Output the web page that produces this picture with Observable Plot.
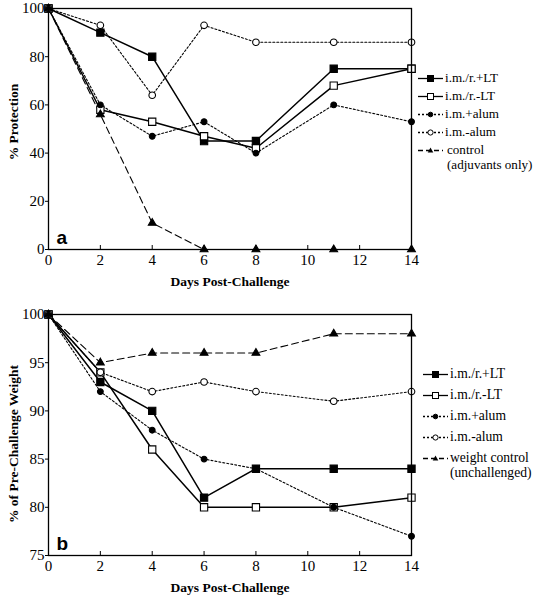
<!DOCTYPE html>
<html><head><meta charset="utf-8">
<script src="https://cdn.jsdelivr.net/npm/d3@7"></script>
<script src="https://cdn.jsdelivr.net/npm/@observablehq/plot@0.6"></script>
<style>
body{margin:0;background:#fff;}
#wrap{position:relative;width:538px;height:595px;overflow:hidden;}
.panel{position:absolute;left:0;}
.legend{position:absolute;font-family:"Liberation Serif",serif;font-size:13.6px;color:#000;line-height:15px;}
.legend .row{position:relative;height:18px;white-space:nowrap;}
.legend svg{position:absolute;left:0;top:0;}
.legend span{position:absolute;left:27px;top:0;}
</style></head><body><div id="wrap"></div>
<script>
// ---- data ----
const days = [0, 2, 4, 6, 8, 11, 14];
const xTicks = [0, 2, 4, 6, 8, 10, 12, 14];
const seriesNames = ["i.m./r.+LT", "i.m./r.-LT", "i.m.+alum", "i.m.-alum"];
const controlNameA = ["control", "(adjuvants only)"];
const controlNameB = ["weight control", "(unchallenged)"];

// Panel a: % Protection
const protLTplus  = [100, 90, 80, 45, 45, 75, 75];
const protLTminus = [100, 58, 53, 47, 42, 68, 75];
const protAlumPlus  = [100, 60, 47, 53, 40, 60, 53];
const protAlumMinus = [100, 93, 64, 93, 86, 86, 86];
const protControl   = [100, 56, 11, 0, 0, 0, 0];
const yTicksA = [0, 20, 40, 60, 80, 100];

// Panel b: % of pre-challenge weight
const wtLTplus  = [100, 93, 90, 81, 84, 84, 84];
const wtLTminus = [100, 94, 86, 80, 80, 80, 81];
const wtAlumPlus  = [100, 92, 88, 85, 84, 80, 77];
const wtAlumMinus = [100, 94, 92, 93, 92, 91, 92];
const wtControl   = [100, 95, 96, 96, 96, 98, 98];
const yTicksB = [75, 80, 85, 90, 95, 100];

// ---- styles per series (index order) ----
const styles = [
  {dash: null, symbol: "square", fill: "black", r: 4.1},
  {dash: null, symbol: "square", fill: "white", r: 4.1},
  {dash: "2,2", symbol: "circle", fill: "black", r: 2.9},
  {dash: "2,2", symbol: "circle", fill: "white", r: 3.3},
  {dash: "7,4", symbol: "triangle", fill: "black", r: 2.9}
];

function toRows(vals, s) { return days.map((d, i) => ({day: d, v: vals[i], s})); }

function panel(cfg) {
  const all = cfg.series.map((vals, s) => toRows(vals, s));
  const plotH = cfg.height - cfg.mt - cfg.mb;
  const marks = [];
  all.forEach((rows, s) => {
    const st = styles[s];
    marks.push(Plot.line(rows, {x: "day", y: "v", stroke: "black", strokeWidth: s < 2 ? 1.5 : 1.1, strokeDasharray: st.dash}));
  });
  all.forEach((rows, s) => {
    const st = styles[s];
    marks.push(Plot.dot(rows, {x: "day", y: "v", symbol: () => st.symbol, r: st.r, fill: st.fill, stroke: "black", strokeWidth: 1.1}));
  });
  const p = Plot.plot({
    width: 538, height: cfg.height,
    marginTop: cfg.mt, marginBottom: cfg.mb, marginLeft: 48, marginRight: 127,
    style: {fontFamily: "'Liberation Serif', serif", fontSize: "15px", color: "black", background: "white"},
    x: {domain: [0, 14]},
    y: {domain: cfg.ydomain},
    symbol: {type: "identity"},
    marks: [
      Plot.axisX({ticks: xTicks, tickSize: 0, tickPadding: 5, label: "Days Post-Challenge", labelAnchor: "center", labelArrow: "none", labelOffset: 36, fontSize: 15}),
      Plot.tickX(xTicks, {x: d => d, stroke: "black", strokeWidth: 1, insetTop: plotH - 4}),
      Plot.axisY({ticks: cfg.yticks, tickSize: 3, tickPadding: 1, label: cfg.ylabel, labelAnchor: "center", labelArrow: "none", labelOffset: 40, fontSize: 15}),
      ...marks,
      Plot.frame({stroke: "black", strokeWidth: 1.3}),
      Plot.text([cfg.letter], {frameAnchor: "bottom-left", dx: 8, dy: -6, text: d => d, fontFamily: "'Liberation Sans', sans-serif", fontWeight: "bold", fontSize: 19})
    ]
  });
  p.querySelectorAll('g[aria-label="x-axis label"] text, g[aria-label="y-axis label"] text').forEach(t => { t.setAttribute("font-weight", "bold"); t.setAttribute("font-size", "13.5"); });
  const yl = p.querySelector('g[aria-label="y-axis label"]');
  if (yl) {
    const prev = yl.getAttribute("transform") || "";
    yl.setAttribute("transform", `translate(0,${cfg.ylabelShift}) ${prev}`);
  }
  return p;
}

const wrap = document.getElementById("wrap");
const a = panel({series: [protLTplus, protLTminus, protAlumPlus, protAlumMinus, protControl], ydomain: [0, 100], yticks: yTicksA, ylabel: "% Protection", height: 297, mt: 8, mb: 48, letter: "a", ylabelShift: -7});
a.classList.add("panel"); a.style.top = "0px";
const b = panel({series: [wtLTplus, wtLTminus, wtAlumPlus, wtAlumMinus, wtControl], ydomain: [75, 100], yticks: yTicksB, ylabel: "% of Pre-Challenge Weight", height: 298, mt: 17, mb: 40, letter: "b", ylabelShift: 9});
b.classList.add("panel"); b.style.top = "297px";
wrap.appendChild(a); wrap.appendChild(b);

function legend(top, left, rowH, controlName, controlIndent, fontSize) {
  const div = document.createElement("div");
  div.className = "legend";
  div.style.top = top + "px"; div.style.left = left + "px";
  div.style.fontSize = fontSize + "px";
  const names = [...seriesNames, controlName];
  names.forEach((n, i) => {
    const st = styles[i];
    const row = document.createElement("div");
    row.className = "row";
    row.style.height = rowH + "px";
    let sym;
    if (st.symbol === "square") sym = `<rect x="9.5" y="5.5" width="6" height="6" fill="${st.fill}" stroke="black" stroke-width="1"/>`;
    else if (st.symbol === "circle") sym = `<circle cx="12.5" cy="8.5" r="${st.fill === "black" ? 2.3 : 2.6}" fill="${st.fill}" stroke="black" stroke-width="1"/>`;
    else sym = `<path d="M12.5,5.5 L15.3,10.5 L9.7,10.5 Z" fill="black"/>`;
    const dash = st.dash ? `stroke-dasharray="${i === 4 ? '5,3' : '2,2'}"` : "";
    const indent = i === 4 ? `style="left:${27 + controlIndent}px"` : "";
    row.innerHTML = `<svg width="26" height="18"><line x1="0" x2="25" y1="8.5" y2="8.5" stroke="black" stroke-width="1.3" ${dash}/>${sym}</svg>` +
      `<span ${indent}>${Array.isArray(n) ? n.join("<br>") : n}</span>`;
    div.appendChild(row);
  });
  wrap.appendChild(div);
}
legend(70, 418, 18, controlNameA, 2, 13.1);
legend(366, 423, 21, controlNameB, 0, 13.6);
</script></body></html>
